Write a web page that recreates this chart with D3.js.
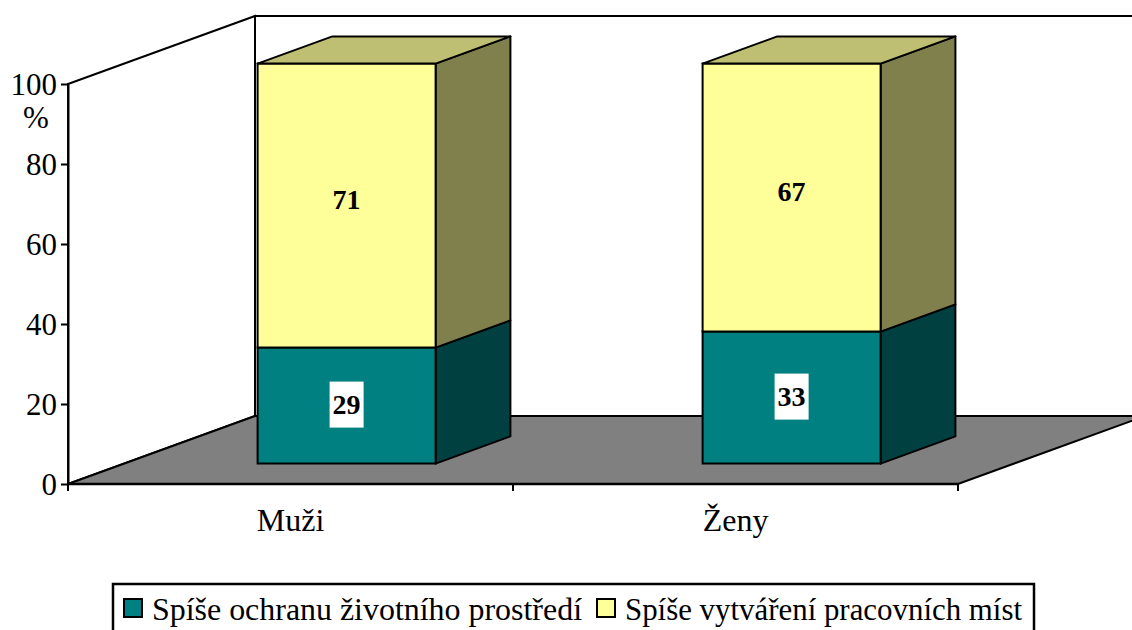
<!DOCTYPE html>
<html>
<head>
<meta charset="utf-8">
<script src="https://cdn.jsdelivr.net/npm/d3@7"></script>
<style>
  body { margin: 0; background: #fff; }
</style>
</head>
<body>
<div id="chart-area"></div>
<script>
var categories = ["Muži", "Ženy"];
var seriesNames = ["Spíše ochranu životního prostředí", "Spíše vytváření pracovních míst"];
var ochrana = [29, 33];
var mista = [71, 67];
var yTicks = [0, 20, 40, 60, 80, 100];

var colors = ["#008080", "#FFFF99"];
var sideColors = ["#004040", "#80804C"];
var topColors = ["#008080", "#BFBF73"];

var FONT = "'Liberation Serif', 'Times New Roman', serif";
var width = 1132, height = 630;

// front plane of the 3D box and the depth vector
var x0 = 68, x1 = 958, yBase = 484, yTop = 84;
var depth = {dx: 187, dy: -68};
var d1 = 0.30, d2 = 0.70;   // bar front / back as fraction of depth

var svg = d3.select("#chart-area")
  .append("svg")
    .attr("width", width)
    .attr("height", height)
    .style("font-family", FONT);

var x = d3.scaleBand()
  .domain(categories)
  .range([x0, x1]);

var y = d3.scaleLinear()
  .domain([0, 100])
  .range([yBase, yTop]);

function pt(px, py, d) {
  return [px + d * depth.dx, py + d * depth.dy];
}
function poly(pts) {
  return pts.map(function(p){ return p.join(","); }).join(" ");
}

// left wall
svg.append("polygon")
  .attr("points", poly([pt(x0, y(0), 0), pt(x0, y(100), 0), pt(x0, y(100), 1), pt(x0, y(0), 1)]))
  .attr("fill", "#fff")
  .attr("stroke", "#000")
  .attr("stroke-width", 2);

// back wall
svg.append("polygon")
  .attr("points", poly([pt(x0, y(0), 1), pt(x0, y(100), 1), pt(x1, y(100), 1), pt(x1, y(0), 1)]))
  .attr("fill", "#fff")
  .attr("stroke", "#000")
  .attr("stroke-width", 2);

// floor
svg.append("polygon")
  .attr("points", poly([pt(x0, y(0), 0), pt(x1, y(0), 0), pt(x1, y(0), 1), pt(x0, y(0), 1)]))
  .attr("fill", "#808080")
  .attr("stroke", "#000")
  .attr("stroke-width", 2);

// y axis
var yAxis = svg.append("g")
  .attr("transform", "translate(" + x0 + ",0)")
  .call(d3.axisLeft(y).tickValues(yTicks).tickSize(7).tickPadding(4).tickSizeOuter(0));
yAxis.attr("font-family", null).attr("font-size", null);
yAxis.select(".domain").attr("stroke", "#000").attr("stroke-width", 2);
yAxis.selectAll(".tick line").attr("stroke", "#000").attr("stroke-width", 2);
yAxis.selectAll("text")
  .style("font-size", "31px")
  .attr("fill", "#000")
  .attr("dy", "0.34em");

svg.append("text")
  .attr("x", 36)
  .attr("y", 128)
  .attr("text-anchor", "middle")
  .style("font-size", "31px")
  .text("%");

// x axis
svg.append("line")
  .attr("x1", x0).attr("x2", x1)
  .attr("y1", yBase).attr("y2", yBase)
  .attr("stroke", "#000").attr("stroke-width", 2.5);

var edges = categories.map(function(c){ return x(c); }).concat([x(categories[categories.length - 1]) + x.bandwidth()]);
svg.selectAll(".xtick")
  .data(edges)
  .enter()
  .append("line")
    .attr("x1", function(d){ return d; })
    .attr("x2", function(d){ return d; })
    .attr("y1", yBase)
    .attr("y2", yBase + 7)
    .attr("stroke", "#000")
    .attr("stroke-width", 2);

svg.selectAll(".xlabel")
  .data(categories)
  .enter()
  .append("text")
    .attr("x", function(d){ return x(d) + x.bandwidth() / 2; })
    .attr("y", 531)
    .attr("text-anchor", "middle")
    .style("font-size", "32px")
    .text(function(d){ return d; });

// bars
var gapWidth = 1.5;
var barW = x.bandwidth() / (1 + gapWidth);

categories.forEach(function(c, i) {
  var left = x(c) + (x.bandwidth() - barW) / 2;
  var right = left + barW;
  var segs = [[0, ochrana[i]], [ochrana[i], ochrana[i] + mista[i]]];
  var g = svg.append("g");

  segs.forEach(function(s, k) {
    var b = y(s[0]), t = y(s[1]);
    // side
    g.append("polygon")
      .attr("points", poly([pt(right, b, d1), pt(right, t, d1), pt(right, t, d2), pt(right, b, d2)]))
      .attr("fill", sideColors[k])
      .attr("stroke", "#000")
      .attr("stroke-width", 2)
      .attr("stroke-linejoin", "round");
    // front
    g.append("polygon")
      .attr("points", poly([pt(left, b, d1), pt(right, b, d1), pt(right, t, d1), pt(left, t, d1)]))
      .attr("fill", colors[k])
      .attr("stroke", "#000")
      .attr("stroke-width", 2);
  });

  var topV = y(ochrana[i] + mista[i]);
  g.append("polygon")
    .attr("points", poly([pt(left, topV, d1), pt(right, topV, d1), pt(right, topV, d2), pt(left, topV, d2)]))
    .attr("fill", topColors[1])
    .attr("stroke", "#000")
    .attr("stroke-width", 2)
    .attr("stroke-linejoin", "round");

  // value labels
  var cx = (left + right) / 2 + d1 * depth.dx;
  var vals = [ochrana[i], mista[i]];
  segs.forEach(function(s, k) {
    var cy = (y(s[0]) + y(s[1])) / 2 + d1 * depth.dy;
    if (k === 0) {
      cy -= 2;
      g.append("rect")
        .attr("x", cx - 17)
        .attr("y", cy - 22)
        .attr("width", 34)
        .attr("height", 46)
        .attr("fill", "#fff");
    } else {
      cy -= 7;
    }
    g.append("text")
      .attr("x", cx)
      .attr("y", cy + 10)
      .attr("text-anchor", "middle")
      .style("font-size", "28px")
      .style("font-weight", "bold")
      .text(vals[k]);
  });
});

// legend
var legend = svg.append("g");
legend.append("rect")
  .attr("x", 113)
  .attr("y", 584)
  .attr("width", 921)
  .attr("height", 60)
  .attr("fill", "#fff")
  .attr("stroke", "#000")
  .attr("stroke-width", 2.5);

var legX = [124, 597];
var legLen = [430, 397];
seriesNames.forEach(function(n, k) {
  legend.append("rect")
    .attr("x", legX[k])
    .attr("y", 599)
    .attr("width", 18)
    .attr("height", 18)
    .attr("fill", colors[k])
    .attr("stroke", "#000")
    .attr("stroke-width", 2);
  legend.append("text")
    .attr("x", legX[k] + 28)
    .attr("y", 620)
    .attr("textLength", legLen[k])
    .attr("lengthAdjust", "spacingAndGlyphs")
    .style("font-size", "32px")
    .text(n);
});
</script>
</body>
</html>
